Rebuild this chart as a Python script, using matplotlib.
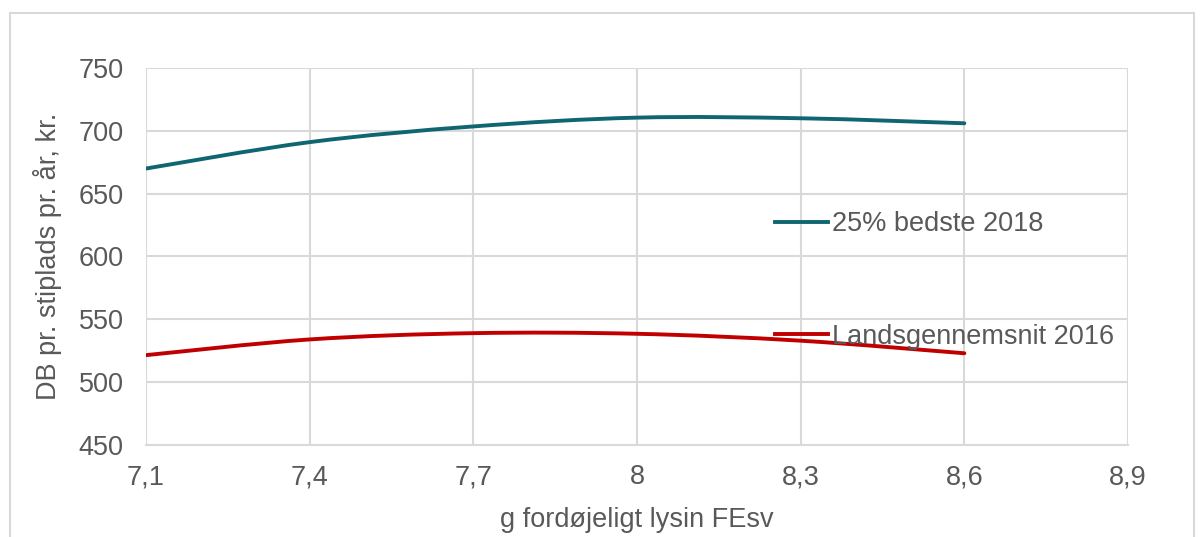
import numpy as np
import matplotlib.pyplot as plt
from matplotlib.path import Path
from matplotlib.patches import PathPatch, Rectangle
from matplotlib.lines import Line2D

plt.rcParams['font.family'] = ['Liberation Sans', 'DejaVu Sans']

lysin = [7.1, 7.4, 7.7, 8.0, 8.3, 8.6]
bedste_2018 = [670, 691, 703.5, 710.5, 710, 706]
lands_2016 = [521.5, 534, 539, 538.5, 533, 523]

x_ticks = [7.1, 7.4, 7.7, 8.0, 8.3, 8.6, 8.9]
x_labels = ["7,1", "7,4", "7,7", "8", "8,3", "8,6", "8,9"]
y_ticks = [450, 500, 550, 600, 650, 700, 750]

label_bedste = "25% bedste 2018"
label_lands = "Landsgennemsnit 2016"

teal = "#0F6670"
red = "#C00000"
grey_txt = "#595959"
grid_col = "#D9D9D9"
fs = 19.5


def smooth_path(x, y):
    # excel-style smoothed line: cubic bezier through the points
    p = np.column_stack([x, y]).astype(float)
    ext = np.vstack([p[0], p, p[-1]])
    verts = [p[0]]
    codes = [Path.MOVETO]
    for i in range(len(p) - 1):
        a, b, c, d = ext[i], ext[i + 1], ext[i + 2], ext[i + 3]
        verts += [b + (c - a) / 6, c - (d - b) / 6, c]
        codes += [Path.CURVE4] * 3
    return Path(verts, codes)


fig = plt.figure(figsize=(12.01, 5.37), dpi=100)
ax = fig.add_axes([146 / 1201, 1 - 445 / 537, (1128 - 146) / 1201, (445 - 68) / 537])

fig.patches.append(Rectangle((10 / 1201, -0.1), (1194 - 10) / 1201, 1.1 - 13 / 537,
                             transform=fig.transFigure, fill=False,
                             edgecolor=grid_col, lw=1.5))

ax.add_patch(PathPatch(smooth_path(lysin, bedste_2018), fill=False,
                       edgecolor=teal, lw=2.8, capstyle='round', zorder=3))
ax.add_patch(PathPatch(smooth_path(lysin, lands_2016), fill=False,
                       edgecolor=red, lw=2.8, capstyle='round', zorder=3))

ax.set_xlim(7.1, 8.9)
ax.set_ylim(450, 750)
ax.set_xticks(x_ticks)
ax.set_xticklabels(x_labels)
ax.set_yticks(y_ticks)
ax.grid(True, color=grid_col, lw=1.5)
ax.set_axisbelow(True)
for s in ["top", "right", "left"]:
    ax.spines[s].set_visible(False)
ax.spines["bottom"].set_color(grid_col)
ax.spines["bottom"].set_linewidth(1.5)
ax.tick_params(length=0, labelsize=fs, colors=grey_txt)
ax.tick_params(axis="y", pad=16)
ax.tick_params(axis="x", pad=14)

ax.set_xlabel("g fordøjeligt lysin FEsv", fontsize=fs, color=grey_txt, labelpad=12)
ax.set_ylabel("DB pr. stiplads pr. år, kr.", fontsize=fs, color=grey_txt, labelpad=12)

handles = [Line2D([], [], color=teal, lw=2.8),
           Line2D([], [], color=red, lw=2.8)]
leg = ax.legend(handles, [label_bedste, label_lands], loc="upper left",
                bbox_to_anchor=(775 / 1201, 1 - 211 / 537),
                bbox_transform=fig.transFigure, frameon=False,
                fontsize=fs, labelcolor=grey_txt, handlelength=1.95,
                handletextpad=0.15, labelspacing=3.2, borderpad=0,
                borderaxespad=0)

fig.savefig("out.png", dpi=100)
